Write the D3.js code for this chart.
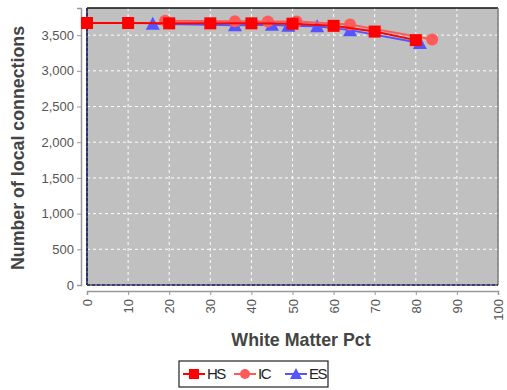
<!DOCTYPE html>
<html><head><meta charset="utf-8">
<script src="https://cdn.jsdelivr.net/npm/d3@7"></script>
<style>body{margin:0;background:#fff}svg{display:block}</style>
</head><body>
<svg id="c" width="507" height="390"></svg>
<script>
const hsX = [0, 10, 20, 30, 40, 50, 60, 70, 80];
const hsY = [3670, 3670, 3665, 3665, 3665, 3660, 3630, 3550, 3430];
const icX = [19, 36, 44, 51, 64, 84];
const icY = [3700, 3695, 3690, 3690, 3650, 3440];
const esX = [16, 36, 45, 49, 56, 64, 81];
const esY = [3660, 3640, 3645, 3630, 3625, 3570, 3390];
const xTicks = [0,10,20,30,40,50,60,70,80,90,100];
const yTicks = [0,500,1000,1500,2000,2500,3000,3500];
const seriesNames = ["HS","IC","ES"];
const seriesColors = ["#ff0000","#ff5a5a","#5555ff"];

const svg = d3.select("#c");
const L=87, R=498, T=8, B=285;
const x = d3.scaleLinear().domain([0,100]).range([L,R]);
const y = d3.scaleLinear().domain([0,3880]).range([B,T]);

svg.append("rect").attr("x",L).attr("y",T).attr("width",R-L).attr("height",B-T).attr("fill","#c0c0c0");
// grid
svg.append("g").selectAll("line").data(xTicks.slice(1)).join("line")
  .attr("x1",d=>x(d)).attr("x2",d=>x(d)).attr("y1",T).attr("y2",B)
  .attr("stroke","#fff").attr("stroke-width",1).attr("stroke-dasharray","3,3");
svg.append("g").selectAll("line").data(yTicks.slice(1)).join("line")
  .attr("x1",L).attr("x2",R).attr("y1",d=>y(d)).attr("y2",d=>y(d))
  .attr("stroke","#fff").attr("stroke-width",1).attr("stroke-dasharray","3,3");
// borders
svg.append("line").attr("x1",L).attr("x2",R).attr("y1",T).attr("y2",T).attr("stroke","#111").attr("stroke-width",1.5);
svg.append("line").attr("x1",R).attr("x2",R).attr("y1",T).attr("y2",B).attr("stroke","#777").attr("stroke-width",1.5);
svg.append("line").attr("x1",L).attr("x2",L).attr("y1",T).attr("y2",B).attr("stroke","#555").attr("stroke-width",2);
svg.append("line").attr("x1",L).attr("x2",L).attr("y1",T).attr("y2",B).attr("stroke","#2a2a8a").attr("stroke-width",2).attr("stroke-dasharray","3,2");
svg.append("line").attr("x1",L).attr("x2",R).attr("y1",B).attr("y2",B).attr("stroke","#555").attr("stroke-width",1.5);
svg.append("line").attr("x1",L).attr("x2",R).attr("y1",B).attr("y2",B).attr("stroke","#2a2a8a").attr("stroke-width",1.5).attr("stroke-dasharray","3,2");

// axes
const fmt = d3.format(",");
const yAx = svg.append("g").attr("transform","translate(81,0)")
  .call(d3.axisLeft(y).tickValues(yTicks).tickFormat(fmt).tickSize(4).tickPadding(3));
const xAx = svg.append("g").attr("transform","translate(0,291)")
  .call(d3.axisBottom(x).tickValues(xTicks).tickSize(4).tickPadding(3));
[yAx,xAx].forEach(g=>{
  g.select(".domain").attr("stroke","#999").attr("stroke-width",1.5);
  g.selectAll(".tick line").attr("stroke","#999");
  g.selectAll("text").attr("fill","#555").attr("font-family","Liberation Sans, Arial, sans-serif").attr("font-size",13);
});
xAx.selectAll("text").attr("transform","rotate(-90)").attr("text-anchor","end")
  .attr("dy","0.35em").attr("x",-8).attr("y",0);

svg.append("text").attr("x",301).attr("y",346).attr("text-anchor","middle")
  .attr("font-family","Liberation Sans, Arial, sans-serif").attr("font-weight","bold")
  .attr("font-size",17.8).attr("fill","#444").text("White Matter Pct");
svg.append("text").attr("transform","translate(24,148) rotate(-90)").attr("text-anchor","middle")
  .attr("font-family","Liberation Sans, Arial, sans-serif").attr("font-weight","bold")
  .attr("font-size",17.8).attr("fill","#444").text("Number of local connections");

const series = [
  {xs:esX, ys:esY, c:seriesColors[2], shape:"tri"},
  {xs:icX, ys:icY, c:seriesColors[1], shape:"circ"},
  {xs:hsX, ys:hsY, c:seriesColors[0], shape:"sq"}
];
const line = d3.line().x(d=>x(d[0])).y(d=>y(d[1]));
function drawMarker(g, shape, c, cx, cy){
  if(shape==="sq") g.append("rect").attr("x",cx-6).attr("y",cy-6).attr("width",12).attr("height",12).attr("fill",c);
  else if(shape==="circ") g.append("circle").attr("cx",cx).attr("cy",cy).attr("r",6).attr("fill",c);
  else g.append("path").attr("d",`M${cx},${cy-7}L${cx+7},${cy+6}L${cx-7},${cy+6}Z`).attr("fill",c);
}
series.forEach(s=>{
  const pts = s.xs.map((v,i)=>[v,s.ys[i]]);
  const g = svg.append("g");
  g.append("path").attr("d",line(pts)).attr("fill","none").attr("stroke",s.c).attr("stroke-width",2);
  pts.forEach(p=>drawMarker(g,s.shape,s.c,x(p[0]),y(p[1])));
});

// legend
const lg = svg.append("g");
lg.append("rect").attr("x",179).attr("y",361).attr("width",149).attr("height",26).attr("fill","#fff").attr("stroke","#222").attr("stroke-width",1.2);
const items=[{n:"HS",c:seriesColors[0],s:"sq",x:183},{n:"IC",c:seriesColors[1],s:"circ",x:234},{n:"ES",c:seriesColors[2],s:"tri",x:285}];
items.forEach(it=>{
  lg.append("line").attr("x1",it.x).attr("x2",it.x+22).attr("y1",374).attr("y2",374).attr("stroke",it.c).attr("stroke-width",2);
  const cx=it.x+11, cy=374;
  if(it.s==="sq") lg.append("rect").attr("x",cx-5).attr("y",cy-5).attr("width",10).attr("height",10).attr("fill",it.c);
  else if(it.s==="circ") lg.append("circle").attr("cx",cx).attr("cy",cy).attr("r",5).attr("fill",it.c);
  else lg.append("path").attr("d",`M${cx},${cy-6}L${cx+6},${cy+5}L${cx-6},${cy+5}Z`).attr("fill",it.c);
  lg.append("text").attr("x",it.x+24).attr("y",379).attr("font-family","Liberation Sans, Arial, sans-serif")
    .attr("font-size",15).attr("letter-spacing",-1.5).attr("fill","#222").text(it.n);
});
</script>
</body></html>
